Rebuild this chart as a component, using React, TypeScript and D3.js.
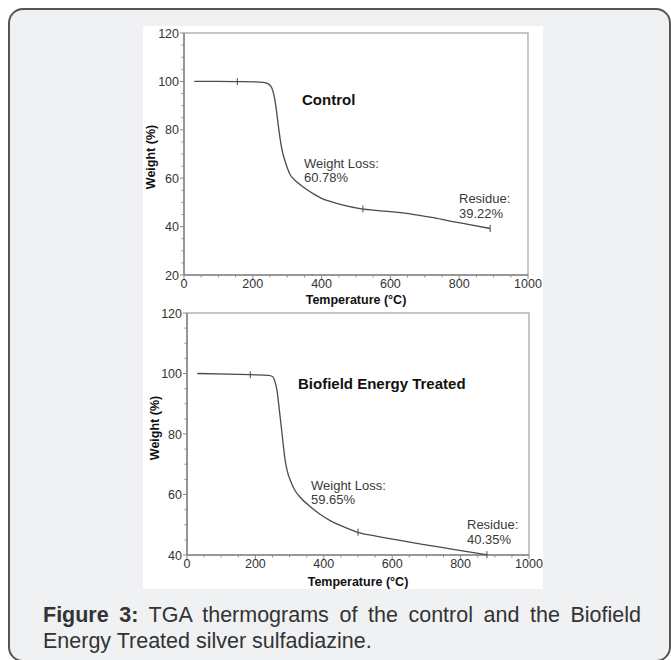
import React, { useLayoutEffect, useRef, useState } from "react";
import * as d3 from "d3";

// ---- data ----
const xTicks = [0, 200, 400, 600, 800, 1000];
const yTicksTop = [20, 40, 60, 80, 100, 120];
const yTicksBottom = [40, 60, 80, 100, 120];

const controlTemp = [30, 100, 160, 200, 230, 245, 255, 262, 269, 274, 279, 286, 294, 301, 308, 320, 337, 360, 380, 400, 430, 460, 512, 580, 657, 720, 773, 830, 890];
const controlWeight = [100, 100, 99.9, 99.8, 99.6, 99, 97.4, 94, 87.7, 82, 76.7, 71, 67, 64, 61.6, 59.5, 57.4, 55, 53.2, 51.7, 50.2, 49, 47.4, 46.4, 45.3, 43.8, 42.3, 40.8, 39.22];
const controlMarks = [155, 520, 890];

const treatedTemp = [30, 120, 185, 238, 250, 258, 263, 270, 278, 287, 295, 302, 315, 331, 360, 390, 420, 450, 497, 560, 623, 680, 740, 810, 877];
const treatedWeight = [100, 99.8, 99.6, 99.4, 99, 97, 94.5, 88, 80, 71.3, 67, 64.7, 61.5, 59.1, 56, 53.4, 51.3, 49.7, 47.6, 46.1, 44.8, 43.7, 42.6, 41.3, 40.1];
const treatedMarks = [185, 500, 877];

const captionBold = "Figure 3:";
const captionLine1 = "TGA thermograms of the control and the Biofield";
const captionLine2 = "Energy Treated silver sulfadiazine.";

const FONT = "'Liberation Sans', Arial, sans-serif";

type PanelProps = {
  x0: number; x1: number; yTop: number; yBot: number;
  yDomain: [number, number]; yTicks: number[];
  temps: number[]; weights: number[]; marks: number[];
  title: string; titlePos: [number, number];
  loss: string; lossPos: [number, number];
  residue: string; residuePos: [number, number];
  yTitlePos: [number, number];
  xTitleY: number;
};

function Panel(p: PanelProps) {
  const x = d3.scaleLinear().domain([0, 1000]).range([p.x0, p.x1]);
  const y = d3.scaleLinear().domain(p.yDomain).range([p.yBot, p.yTop]);
  const pts: [number, number][] = p.temps.map((t, i) => [t, p.weights[i]]);
  const line = d3.line<[number, number]>().x(d => x(d[0])).y(d => y(d[1])).curve(d3.curveMonotoneX);
  const interp = (t: number) => {
    const i = d3.bisector((d: number) => d).left(p.temps, t);
    if (i <= 0) return p.weights[0];
    if (i >= p.temps.length) return p.weights[p.temps.length - 1];
    const a = p.temps[i - 1], b = p.temps[i];
    return p.weights[i - 1] + (p.weights[i] - p.weights[i - 1]) * (t - a) / (b - a);
  };
  const xMinor = d3.range(0, 1001, 50);
  const yMinor = d3.range(p.yDomain[0], p.yDomain[1] + 0.1, 5);
  const axisColor = "#8a8a8a";
  const tickColor = "#333";
  return (
    <g>
      <rect x={p.x0} y={p.yTop} width={p.x1 - p.x0} height={p.yBot - p.yTop} fill="none" stroke="#a0a0a0" strokeWidth={1.2} />
      <line x1={p.x0} x2={p.x0} y1={p.yTop} y2={p.yBot} stroke={axisColor} strokeWidth={1.6} />
      <line x1={p.x0} x2={p.x1} y1={p.yBot} y2={p.yBot} stroke={axisColor} strokeWidth={1.6} />
      {xMinor.map(v => (
        <line key={"xm" + v} x1={x(v)} x2={x(v)} y1={p.yBot} y2={p.yBot + (v % 200 === 0 ? 4 : 2.5)} stroke={axisColor} strokeWidth={1} />
      ))}
      {yMinor.map(v => (
        <line key={"ym" + v} x1={p.x0} x2={p.x0 - (v % 20 === 0 ? 4 : 2.5)} y1={y(v)} y2={y(v)} stroke={axisColor} strokeWidth={1} />
      ))}
      {xTicks.map(v => (
        <text key={"xt" + v} x={x(v)} y={p.yBot + 13} textAnchor="middle" fontSize={12.5} fill={tickColor} fontFamily={FONT}>{v}</text>
      ))}
      {p.yTicks.map(v => (
        <text key={"yt" + v} x={p.x0 - 5} y={y(v) + 4.5} textAnchor="end" fontSize={12.5} fill={tickColor} fontFamily={FONT}>{v}</text>
      ))}
      <text x={(p.x0 + p.x1) / 2} y={p.xTitleY} textAnchor="middle" fontSize={12.5} fontWeight="bold" fill="#111" fontFamily={FONT}>Temperature (°C)</text>
      <text transform={`translate(${p.yTitlePos[0]},${p.yTitlePos[1]}) rotate(-90)`} textAnchor="middle" fontSize={12.5} fontWeight="bold" fill="#111" fontFamily={FONT}>Weight (%)</text>
      <path d={line(pts) || ""} fill="none" stroke="#4a4a4a" strokeWidth={1.3} />
      {p.marks.map(t => (
        <line key={"mk" + t} x1={x(t)} x2={x(t)} y1={y(interp(t)) - 3.5} y2={y(interp(t)) + 3.5} stroke="#4a4a4a" strokeWidth={1} />
      ))}
      <text x={p.titlePos[0]} y={p.titlePos[1]} fontSize={15} fontWeight="bold" fill="#111" fontFamily={FONT}>{p.title}</text>
      <text x={p.lossPos[0]} y={p.lossPos[1]} fontSize={13} fill="#3a3a3a" fontFamily={FONT}>
        <tspan x={p.lossPos[0]}>Weight Loss:</tspan>
        <tspan x={p.lossPos[0]} dy={13.5}>{p.loss}</tspan>
      </text>
      <text x={p.residuePos[0]} y={p.residuePos[1]} fontSize={13} fill="#3a3a3a" fontFamily={FONT}>
        <tspan x={p.residuePos[0]}>Residue:</tspan>
        <tspan x={p.residuePos[0]} dy={14.5}>{p.residue}</tspan>
      </text>
    </g>
  );
}

export default function App() {
  const lineRef = useRef<SVGTextElement>(null);
  const [ws, setWs] = useState(0);
  const capX = 43;
  const capRight = 641;
  useLayoutEffect(() => {
    if (lineRef.current) {
      const w = lineRef.current.getComputedTextLength();
      const spaces = 9;
      setWs(Math.max(0, (capRight - capX - w) / spaces));
    }
  }, []);
  return (
    <svg width={671} height={660} style={{ position: "absolute", left: 0, top: 0 }}>
      <defs>
        <clipPath id="whiteClip"><rect x={143} y={26} width={400} height={563} /></clipPath>
      </defs>
      <rect x={9} y={9} width={661} height={652} rx={14} fill="#f0f1f3" stroke="#555" strokeWidth={2} />
      <rect x={143} y={26} width={400} height={563} fill="#ffffff" />
      <g clipPath="url(#whiteClip)">
        <Panel
          x0={184} x1={528} yTop={33} yBot={275}
          yDomain={[20, 120]} yTicks={yTicksTop}
          temps={controlTemp} weights={controlWeight} marks={controlMarks}
          title="Control" titlePos={[302, 105]}
          loss="60.78%" lossPos={[304, 168]}
          residue="39.22%" residuePos={[459, 203]}
          yTitlePos={[155, 157]} xTitleY={304}
        />
        <Panel
          x0={187} x1={529} yTop={313} yBot={555}
          yDomain={[40, 120]} yTicks={yTicksBottom}
          temps={treatedTemp} weights={treatedWeight} marks={treatedMarks}
          title="Biofield Energy Treated" titlePos={[298, 389]}
          loss="59.65%" lossPos={[311, 490]}
          residue="40.35%" residuePos={[467, 529]}
          yTitlePos={[159, 428]} xTitleY={586}
        />
      </g>
      <text ref={lineRef} x={capX} y={622} fontSize={21.5} fill="#333" fontFamily={FONT} wordSpacing={ws}>
        <tspan fontWeight="bold">{captionBold}</tspan>
        <tspan> {captionLine1}</tspan>
      </text>
      <text x={capX} y={648} fontSize={21.5} fill="#333" fontFamily={FONT}>{captionLine2}</text>
    </svg>
  );
}
